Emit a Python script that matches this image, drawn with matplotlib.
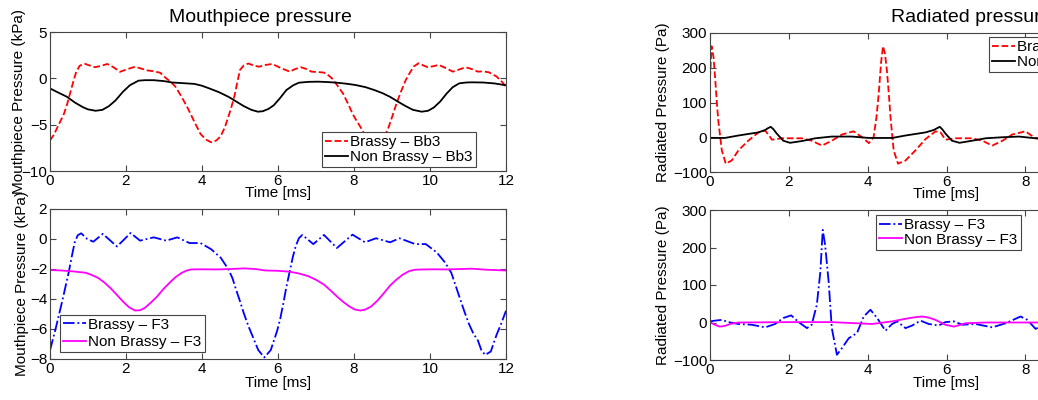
import matplotlib.pyplot as plt

plt.rcParams['font.family'] = ['Liberation Sans', 'DejaVu Sans']
plt.rcParams['font.size'] = 11

# mouthpiece pressure, Bb3 (kPa)
t_mp_bb3_brassy = [0, 0.1, 0.2, 0.3, 0.37, 0.45, 0.53, 0.61, 0.69, 0.78, 0.9, 1.03, 1.18, 1.35,
                   1.51, 1.67, 1.84, 2.04, 2.24, 2.4, 2.57, 2.75, 2.9, 3.06, 3.18, 3.3, 3.45,
                   3.63, 3.8, 3.96, 4.1, 4.24, 4.38, 4.49, 4.6, 4.69, 4.78, 4.86, 4.93, 5.0,
                   5.1, 5.22, 5.35, 5.5, 5.68, 5.85, 6.08, 6.31, 6.45, 6.6, 6.75, 6.88, 7.05,
                   7.21, 7.32, 7.42, 7.55, 7.71, 7.85, 7.96, 8.07, 8.17, 8.3, 8.45, 8.58, 8.72,
                   8.82, 8.9, 9.0, 9.12, 9.24, 9.36, 9.47, 9.57, 9.7, 9.82, 9.94, 10.08, 10.23,
                   10.42, 10.6, 10.77, 10.93, 11.1, 11.26, 11.4, 11.55, 11.75, 11.9, 12.0]
p_mp_bb3_brassy = [-6.7, -6.1, -5.25, -4.4, -3.8, -2.8, -1.6, -0.4, 0.7, 1.35, 1.6, 1.4, 1.2,
                   1.35, 1.55, 1.2, 0.7, 1.0, 1.25, 1.05, 0.85, 0.75, 0.6, 0.0, -0.4, -0.9,
                   -1.9, -3.25, -4.7, -6.0, -6.6, -6.9, -6.7, -6.25, -5.3, -4.2, -3.0, -1.8,
                   -0.4, 0.9, 1.4, 1.6, 1.4, 1.25, 1.45, 1.55, 1.1, 0.72, 1.0, 1.2, 1.0, 0.72,
                   0.68, 0.62, 0.35, 0.0, -0.7, -1.63, -2.8, -3.8, -4.6, -5.25, -6.2, -6.8,
                   -7.0, -6.7, -6.1, -5.4, -4.2, -2.7, -1.4, -0.2, 0.6, 1.27, 1.63, 1.4, 1.2,
                   1.3, 1.45, 1.1, 0.72, 0.95, 1.2, 1.0, 0.72, 0.75, 0.65, 0.2, -0.4, -0.9]

t_mp_bb3_normal = [0, 0.2, 0.45, 0.65, 0.86, 1.0, 1.2, 1.38, 1.55, 1.72, 1.92, 2.1, 2.33, 2.5,
                   2.73, 3.0, 3.22, 3.5, 3.8, 4.0, 4.2, 4.45, 4.7, 4.9, 5.1, 5.3, 5.47, 5.6,
                   5.75, 5.89, 6.05, 6.22, 6.4, 6.55, 6.8, 7.05, 7.3, 7.55, 7.8, 8.04, 8.3,
                   8.54, 8.75, 8.95, 9.15, 9.36, 9.55, 9.78, 9.95, 10.1, 10.27, 10.44, 10.6,
                   10.77, 10.95, 11.1, 11.4, 11.7, 12.0]
p_mp_bb3_normal = [-1.09, -1.5, -2.0, -2.6, -3.1, -3.35, -3.5, -3.4, -3.0, -2.4, -1.45, -0.75,
                   -0.25, -0.2, -0.2, -0.3, -0.45, -0.52, -0.6, -0.8, -1.1, -1.5, -2.0, -2.5,
                   -3.0, -3.4, -3.6, -3.55, -3.3, -2.9, -2.15, -1.27, -0.75, -0.47, -0.38,
                   -0.36, -0.4, -0.47, -0.58, -0.72, -0.95, -1.27, -1.6, -2.0, -2.5, -3.0,
                   -3.4, -3.6, -3.5, -3.15, -2.5, -1.63, -0.95, -0.54, -0.45, -0.43, -0.45,
                   -0.55, -0.75]

# mouthpiece pressure, F3 (kPa)
t_mp_f3_brassy = [0, 0.16, 0.33, 0.49, 0.57, 0.65, 0.73, 0.82, 0.98, 1.14, 1.39, 1.59, 1.76,
                  1.92, 2.12, 2.37, 2.73, 3.06, 3.35, 3.67, 3.96, 4.24, 4.49, 4.69, 4.8, 4.9,
                  5.0, 5.1, 5.22, 5.35, 5.48, 5.64, 5.81, 5.98, 6.06, 6.14, 6.22, 6.31, 6.39,
                  6.47, 6.55, 6.64, 6.93, 7.21, 7.55, 7.96, 8.29, 8.58, 8.95, 9.2, 9.61, 9.89,
                  10.18, 10.4, 10.56, 10.66, 10.77, 10.9, 11.02, 11.14, 11.26, 11.35, 11.45,
                  11.6, 11.75, 11.88, 12.0]
p_mp_f3_brassy = [-7.43, -5.86, -4.05, -2.25, -1.2, -0.23, 0.25, 0.38, 0.0, -0.18, 0.34, -0.11,
                  -0.5, -0.11, 0.4, -0.11, 0.11, -0.11, 0.11, -0.27, -0.27, -0.68, -1.24, -2.0,
                  -2.6, -3.4, -4.15, -4.95, -5.8, -6.6, -7.4, -7.9, -7.4, -6.1, -5.3, -4.3,
                  -3.2, -2.14, -1.2, -0.45, 0.05, 0.27, -0.34, 0.27, -0.6, 0.29, -0.22, 0.05,
                  -0.22, 0.05, -0.34, -0.34, -0.9, -1.58, -2.25, -3.0, -3.83, -4.8, -5.63,
                  -6.3, -6.76, -7.4, -7.73, -7.5, -6.4, -5.6, -4.78]

t_mp_f3_normal = [0, 0.3, 0.61, 0.94, 1.1, 1.27, 1.43, 1.59, 1.75, 1.92, 2.08, 2.24, 2.37,
                  2.49, 2.65, 2.82, 2.98, 3.14, 3.3, 3.47, 3.6, 3.71, 4.0, 4.37, 4.75, 5.1,
                  5.4, 5.67, 6.0, 6.31, 6.55, 6.8, 7.0, 7.21, 7.38, 7.55, 7.72, 7.88, 8.02,
                  8.17, 8.3, 8.45, 8.62, 8.79, 8.95, 9.12, 9.28, 9.45, 9.6, 9.78, 10.1, 10.44,
                  10.8, 11.1, 11.5, 12.0]
p_mp_f3_normal = [-2.07, -2.1, -2.16, -2.25, -2.4, -2.6, -2.9, -3.27, -3.7, -4.17, -4.55,
                  -4.77, -4.75, -4.6, -4.25, -3.83, -3.35, -2.93, -2.55, -2.25, -2.1, -2.03,
                  -2.02, -2.03, -2.0, -1.96, -2.0, -2.1, -2.12, -2.18, -2.3, -2.48, -2.72,
                  -3.04, -3.42, -3.83, -4.2, -4.5, -4.7, -4.77, -4.7, -4.5, -4.1, -3.6, -3.1,
                  -2.7, -2.38, -2.14, -2.05, -2.03, -2.02, -2.03, -2.0, -1.98, -2.05, -2.1]

# radiated pressure, Bb3 (Pa)
t_rad_bb3_brassy = [0, 0.04, 0.09, 0.13, 0.17, 0.21, 0.3, 0.4, 0.55, 0.72, 0.97, 1.23, 1.4,
                    1.5, 1.57, 1.82, 2.33, 2.58, 2.84, 3.09, 3.35, 3.64, 3.86, 4.03, 4.15,
                    4.22, 4.28, 4.34, 4.39, 4.44, 4.49, 4.54, 4.58, 4.66, 4.77, 4.96, 5.21,
                    5.47, 5.72, 5.85, 5.97, 6.23, 6.65, 6.91, 7.16, 7.42, 7.67, 8.0, 8.22, 8.4]
p_rad_bb3_brassy = [170, 262, 230, 171, 105, 48, -38, -76, -67, -38, -10, 14, 19, 5, -7, -3,
                    -3, -10, -24, -10, 8, 17, 0, -17, 0, 55, 124, 215, 262, 240, 190, 120, 57,
                    -38, -76, -67, -38, -5, 17, 14, -7, -3, -3, -10, -24, -10, 8, 17, 0, -8]

t_rad_bb3_normal = [0, 0.38, 0.72, 1.23, 1.4, 1.47, 1.54, 1.61, 1.69, 1.86, 2.03, 2.33, 2.67,
                    3.09, 3.6, 4.03, 4.62, 4.96, 5.47, 5.68, 5.76, 5.83, 5.9, 5.97, 6.14, 6.33,
                    6.65, 6.99, 7.42, 7.84, 8.26, 8.4]
p_rad_bb3_normal = [-2, -2, 5, 14, 21, 26, 30, 23, 11, -10, -16, -11, -3, 2, 2, -2, -2, 5, 14,
                    21, 26, 30, 22, 11, -10, -16, -10, -3, 0, 2, -3, -3]

# radiated pressure, F3 (Pa)
t_rad_f3_brassy = [0, 0.13, 0.3, 0.47, 0.72, 1.06, 1.4, 1.65, 1.86, 2.06, 2.25, 2.46, 2.58,
                   2.71, 2.8, 2.86, 2.92, 3.01, 3.09, 3.22, 3.35, 3.52, 3.73, 3.9, 4.07, 4.24,
                   4.45, 4.62, 4.75, 4.96, 5.13, 5.34, 5.55, 5.8, 5.97, 6.19, 6.4, 6.74, 7.16,
                   7.5, 7.88, 8.05, 8.26, 8.4]
p_rad_f3_brassy = [3, 5, 7, 1, -4, -6, -13, -4, 12, 19, 1, -15, -6, 47, 136, 247, 207, 109,
                   -15, -86, -68, -42, -28, 16, 34, 12, -22, -4, 3, -15, -8, 5, -4, -8, 1, 3,
                   -6, -4, -13, -2, 16, 7, -17, -10]

t_rad_f3_normal = [0, 0.12, 0.25, 0.38, 0.51, 0.72, 2.0, 3.09, 4.11, 4.62, 4.96, 5.2, 5.38,
                   5.55, 5.72, 5.97, 6.19, 6.48, 6.99, 8.4]
p_rad_f3_normal = [1, -6, -11, -9, -4, 0, 1, 1, -4, 3, 10, 14, 16, 13, 7, -6, -11, -2, 0, 0]

W, H = 1038, 400
edge = '#444444'


def px_axes(fig, x0, y0, x1, y1):
    # pixel box (top-left origin) -> figure fraction
    return fig.add_axes([x0 / W, 1 - y1 / H, (x1 - x0) / W, (y1 - y0) / H])


def style(ax, ylim, yticks, ylabel, ylab_x):
    ax.set_xlim(0, 12)
    ax.set_ylim(*ylim)
    ax.set_xticks([0, 2, 4, 6, 8, 10, 12])
    ax.set_yticks(yticks)
    ax.tick_params(direction='in', top=True, right=True, length=4, width=0.8,
                   color=edge, pad=2, labelsize=11)
    for s in ax.spines.values():
        s.set_color(edge)
        s.set_linewidth(0.8)
    ax.set_xlabel('Time [ms]', fontsize=11)
    ax.xaxis.set_label_coords(0.5, -0.11)
    ax.set_ylabel(ylabel, fontsize=11)
    ax.yaxis.set_label_coords(ylab_x, 0.5)


def legend(ax, anchor, loc, spacing):
    lg = ax.legend(loc=loc, bbox_to_anchor=anchor, fontsize=11, fancybox=False,
                   framealpha=1, edgecolor=edge, borderaxespad=0, borderpad=0.2,
                   handlelength=1.5, handletextpad=0.15, labelspacing=spacing)
    lg.get_frame().set_linewidth(0.8)


fig = plt.figure(figsize=(W / 100, H / 100), dpi=100)

ax1 = px_axes(fig, 50, 32, 506, 171)
ax1.plot(t_mp_bb3_brassy, p_mp_bb3_brassy, '--', color='red', lw=1.3, label='Brassy – Bb3')
ax1.plot(t_mp_bb3_normal, p_mp_bb3_normal, '-', color='black', lw=1.3, label='Non Brassy – Bb3')
style(ax1, (-10, 5), [-10, -5, 0, 5], 'Mouthpiece Pressure (kPa)', -0.053)
legend(ax1, (0.596, 0.029), 'lower left', 0.05)

ax2 = px_axes(fig, 50, 209, 506, 359)
ax2.plot(t_mp_f3_brassy, p_mp_f3_brassy, '-.', color='blue', lw=1.3, label='Brassy – F3')
ax2.plot(t_mp_f3_normal, p_mp_f3_normal, '-', color='magenta', lw=1.3, label='Non Brassy – F3')
style(ax2, (-8, 2), [-8, -6, -4, -2, 0, 2], 'Mouthpiece Pressure (kPa)', -0.046)
legend(ax2, (0.022, 0.047), 'lower left', 0.2)

ax3 = px_axes(fig, 710, 33, 1183, 172)
ax3.plot(t_rad_bb3_brassy, p_rad_bb3_brassy, '--', color='red', lw=1.3, label='Brassy – Bb3')
ax3.plot(t_rad_bb3_normal, p_rad_bb3_normal, '-', color='black', lw=1.3, label='Non Brassy – Bb3')
style(ax3, (-100, 300), [-100, 0, 100, 200, 300], 'Radiated Pressure (Pa)', -0.085)
legend(ax3, (0.59, 0.971), 'upper left', 0.05)

ax4 = px_axes(fig, 710, 210, 1183, 360)
ax4.plot(t_rad_f3_brassy, p_rad_f3_brassy, '-.', color='blue', lw=1.3, label='Brassy – F3')
ax4.plot(t_rad_f3_normal, p_rad_f3_normal, '-', color='magenta', lw=1.3, label='Non Brassy – F3')
style(ax4, (-100, 300), [-100, 0, 100, 200, 300], 'Radiated Pressure (Pa)', -0.085)
legend(ax4, (0.351, 0.967), 'upper left', 0.05)

fig.text(260 / W, 1 - 17 / H, 'Mouthpiece pressure', fontsize=14, ha='center', va='center')
fig.text(891 / W, 1 - 17 / H, 'Radiated pressure', fontsize=14, ha='left', va='center')

fig.savefig('out.png', dpi=100)
